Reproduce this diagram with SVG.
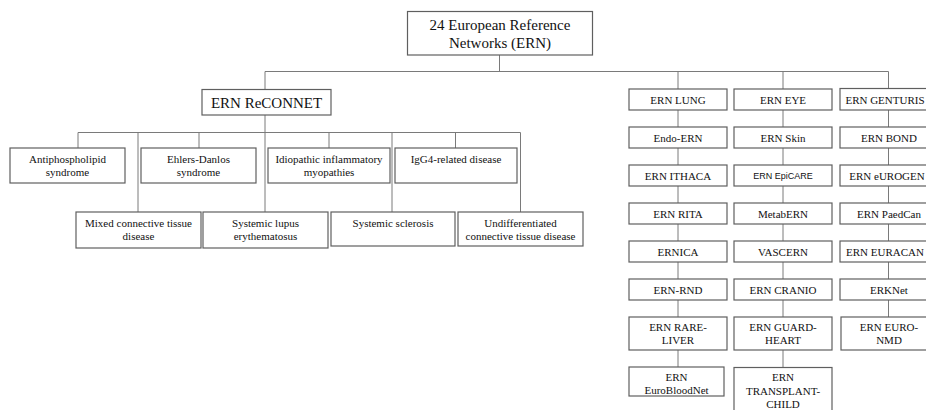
<svg xmlns="http://www.w3.org/2000/svg" width="926" height="410" viewBox="0 0 926 410" font-family="'Liberation Serif', 'DejaVu Serif', serif">
<style>
.b{fill:#fff;stroke:#5f5f5f;stroke-width:1.2}
text{font-family:'Liberation Serif','DejaVu Serif',serif;font-size:11px;fill:#111;text-anchor:middle}
text.L{font-size:15px}
text.s{font-family:'Liberation Sans',Arial,sans-serif;font-size:9px}
.c{fill:none;stroke:#7a7a7a;stroke-width:1}
</style>
<rect width="926" height="410" fill="#fff"/>
<g id="connectors" class="c">
<path d="M499.5 55V71.5M265 71.5H888.5M265 71.5V89M678 71.5V89M783 71.5V89M888.5 71.5V89"/>
<path d="M265 115V212M78 132.5H520.5M78 132.5V148M138 132.5V212M199 132.5V148M329 132.5V148M392 132.5V212M455.5 132.5V148M520.5 132.5V212"/>
<path d="M678 110V127M678 148V165M678 186V203M678 224V241M678 262V279M678 300V317M678 350V367"/>
<path d="M783 110V127M783 148V165M783 186V203M783 224V241M783 262V279M783 300V317M783 350V367"/>
<path d="M888.5 110V127M888.5 148V165M888.5 186V203M888.5 224V241M888.5 262V279M888.5 300V317"/>
</g>
<g id="root"><rect class="b" x="407.5" y="11.5" width="185" height="43.5"/><text class="L" x="500" y="30">24 European Reference</text><text class="L" x="500" y="47.5">Networks (ERN)</text></g>
<g id="reconnet"><rect class="b" x="202" y="89.5" width="129" height="25.5"/><text class="L" x="266.5" y="107.5">ERN ReCONNET</text></g>
<g id="antiphospholipid"><rect class="b" x="10" y="148" width="115" height="35"/><text x="67.5" y="163">Antiphospholipid</text><text x="67.5" y="176">syndrome</text></g>
<g id="ehlers"><rect class="b" x="141" y="148" width="115" height="35"/><text x="198.5" y="163">Ehlers-Danlos</text><text x="198.5" y="176">syndrome</text></g>
<g id="idiopathic"><rect class="b" x="268" y="148" width="122" height="35"/><text x="329" y="163">Idiopathic  inflammatory</text><text x="329" y="176">myopathies</text></g>
<g id="igg4"><rect class="b" x="395" y="148" width="122" height="35"/><text x="456" y="163">IgG4-related disease</text></g>
<g id="mixed"><rect class="b" x="76" y="212" width="125" height="36"/><text x="138.5" y="227">Mixed connective tissue</text><text x="138.5" y="239.5">disease</text></g>
<g id="lupus"><rect class="b" x="203" y="212" width="125" height="36"/><text x="265.5" y="227">Systemic  lupus</text><text x="265.5" y="239.5">erythematosus</text></g>
<g id="sclerosis"><rect class="b" x="331" y="212" width="124" height="34"/><text x="393" y="227">Systemic  sclerosis</text></g>
<g id="undiff"><rect class="b" x="458" y="212" width="125" height="34"/><text x="520.5" y="227">Undifferentiated</text><text x="520.5" y="239.5">connective tissue disease</text></g>
<g id="lung"><rect class="b" x="629" y="89" width="98" height="21"/><text x="678" y="103.5">ERN LUNG</text></g>
<g id="endo"><rect class="b" x="629" y="127" width="98" height="21"/><text x="678" y="141.5">Endo-ERN</text></g>
<g id="ithaca"><rect class="b" x="629" y="165" width="98" height="21"/><text x="678" y="179.5">ERN ITHACA</text></g>
<g id="rita"><rect class="b" x="629" y="203" width="98" height="21"/><text x="678" y="217.5">ERN RITA</text></g>
<g id="ernica"><rect class="b" x="629" y="241" width="98" height="21"/><text x="678" y="255.5">ERNICA</text></g>
<g id="rnd"><rect class="b" x="629" y="279" width="98" height="21"/><text x="678" y="293.5">ERN-RND</text></g>
<g id="rareliver"><rect class="b" x="629" y="317" width="98" height="33"/><text x="678" y="330.5">ERN RARE-</text><text x="678" y="344">LIVER</text></g>
<g id="eurobloodnet"><rect class="b" x="629" y="367" width="95" height="29"/><text x="676.5" y="381">ERN</text><text x="676.5" y="393.5">EuroBloodNet</text></g>
<g id="eye"><rect class="b" x="734" y="89" width="98" height="21"/><text x="783" y="103.5">ERN EYE</text></g>
<g id="skin"><rect class="b" x="734" y="127" width="98" height="21"/><text x="783" y="141.5">ERN Skin</text></g>
<g id="epicare"><rect class="b" x="734" y="165" width="98" height="21"/><text class="s" x="783" y="179">ERN EpiCARE</text></g>
<g id="metabern"><rect class="b" x="734" y="203" width="98" height="21"/><text x="783" y="217.5">MetabERN</text></g>
<g id="vascern"><rect class="b" x="734" y="241" width="98" height="21"/><text x="783" y="255.5">VASCERN</text></g>
<g id="cranio"><rect class="b" x="734" y="279" width="98" height="21"/><text x="783" y="293.5">ERN CRANIO</text></g>
<g id="guardheart"><rect class="b" x="734" y="317" width="98" height="33"/><text x="783" y="330.5">ERN GUARD-</text><text x="783" y="344">HEART</text></g>
<g id="transplant"><rect class="b" x="734" y="367.5" width="98" height="50"/><text x="783" y="381">ERN</text><text x="783" y="394.5">TRANSPLANT-</text><text x="783" y="408">CHILD</text></g>
<g id="genturis"><rect class="b" x="840" y="88.5" width="98" height="21.5"/><text x="885" y="103.5">ERN GENTURIS</text></g>
<g id="bond"><rect class="b" x="840" y="127" width="98" height="21"/><text x="889" y="141.5">ERN BOND</text></g>
<g id="eurogen"><rect class="b" x="840" y="165" width="98" height="21"/><text x="887" y="179.5">ERN eUROGEN</text></g>
<g id="paedcan"><rect class="b" x="840" y="203" width="98" height="21"/><text x="889" y="217.5">ERN PaedCan</text></g>
<g id="euracan"><rect class="b" x="840" y="241" width="98" height="21"/><text x="885" y="255.5">ERN EURACAN</text></g>
<g id="erknet"><rect class="b" x="840" y="279" width="98" height="21"/><text x="889" y="293.5">ERKNet</text></g>
<g id="euronmd"><rect class="b" x="841" y="317" width="98" height="33"/><text x="889" y="330.5">ERN EURO-</text><text x="889" y="344">NMD</text></g>
</svg>
